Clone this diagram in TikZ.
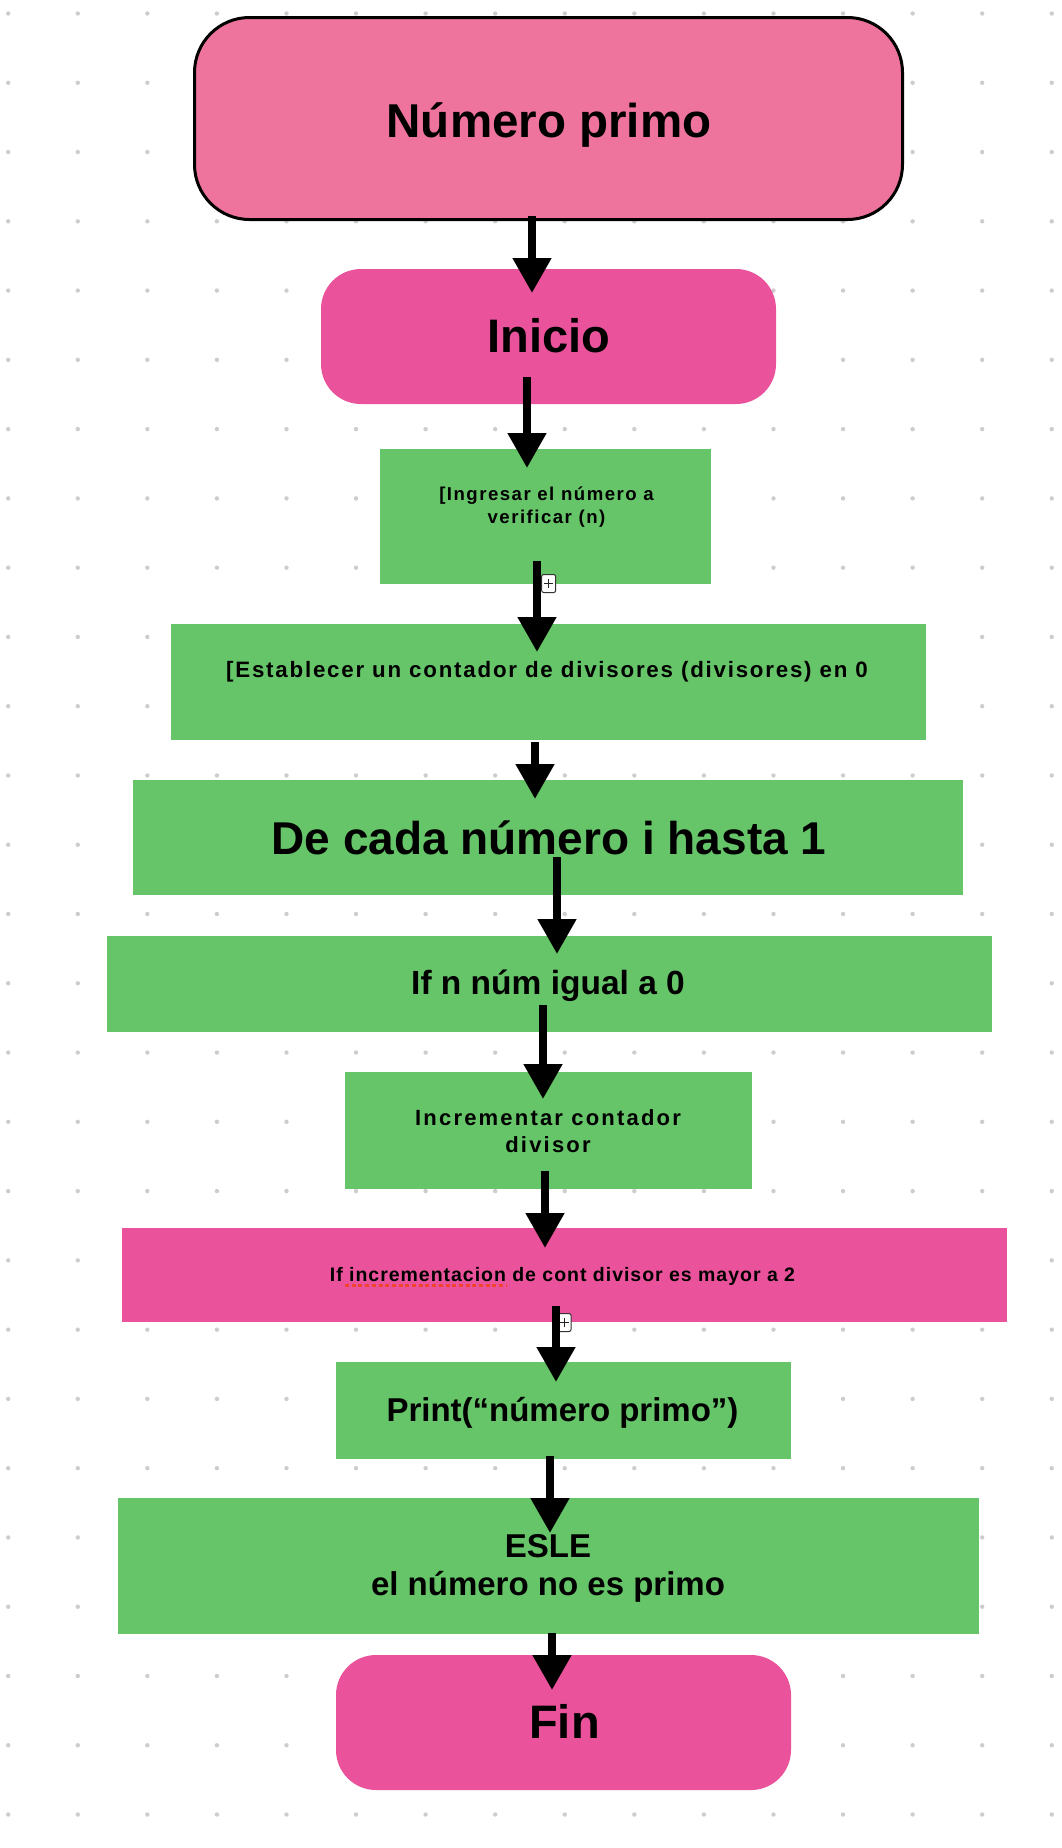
\documentclass[tikz,border=0pt]{standalone}
\usepackage{fontspec}
\setmainfont{Liberation Sans}
\newfontfamily\trkA[LetterSpace=8]{Liberation Sans}
\newfontfamily\trkB[LetterSpace=10]{Liberation Sans}
\newfontfamily\trkC[LetterSpace=5]{Liberation Sans}
\usetikzlibrary{arrows.meta}
\definecolor{pinkA}{RGB}{238,116,158}
\definecolor{pinkB}{RGB}{234,83,155}
\definecolor{greenA}{RGB}{102,197,104}
\definecolor{dotc}{RGB}{205,205,205}
\definecolor{squig}{RGB}{240,68,46}
\begin{document}
\begin{tikzpicture}[x=1pt,y=-1pt,
  shapebox/.style={inner sep=0pt, outer sep=0pt},
  greenbox/.style={shapebox, fill=greenA},
  pinkbox/.style={shapebox, fill=pinkB},
  txt/.style={inner sep=0pt, outer sep=0pt, anchor=base, text=black},
  arr/.style={line width=8pt, -{Triangle[length=35pt,width=37pt]}},
  plusbox/.style={draw=black!80, fill=white, line width=1pt, rounded corners=2pt,
    minimum width=14pt, minimum height=18pt, inner sep=0pt,
    path picture={\draw[black!85, line width=1pt]
      ([xshift=-4.5pt]path picture bounding box.center) -- ([xshift=4.5pt]path picture bounding box.center)
      ([yshift=-4.5pt]path picture bounding box.center) -- ([yshift=4.5pt]path picture bounding box.center);}}]
\useasboundingbox (0,0) rectangle (1062,1848);
\fill[white] (0,0) rectangle (1062,1848);
% dot grid
\foreach \i in {0,...,15}{\foreach \j in {0,...,26}{
  \fill[dotc] (8.2+\i*69.57, 13.5+\j*69.27) circle[radius=2.2pt];}}
% boxes
\node[shapebox, draw=black, line width=3pt, fill=pinkA, rounded corners=55pt,
  minimum width=708pt, minimum height=202pt] (top) at (548.5,118.5) {};
\node[pinkbox, rounded corners=40pt, minimum width=455pt, minimum height=135pt] (inicio) at (548.5,336.5) {};
\node[greenbox, minimum width=331pt, minimum height=135pt] (ingresar) at (545.5,516.5) {};
\node[greenbox, minimum width=755pt, minimum height=116pt] (establecer) at (548.5,682) {};
\node[greenbox, minimum width=830pt, minimum height=115pt] (decada) at (548,837.5) {};
\node[greenbox, minimum width=885pt, minimum height=96pt] (ifn) at (549.5,984) {};
\node[greenbox, minimum width=407pt, minimum height=117pt] (incr) at (548.5,1130.5) {};
\node[pinkbox, minimum width=885pt, minimum height=94pt] (ifpink) at (564.5,1275) {};
\node[greenbox, minimum width=455pt, minimum height=97pt] (print) at (563.5,1410.5) {};
\node[greenbox, minimum width=861pt, minimum height=136pt] (esle) at (548.5,1566) {};
\node[pinkbox, rounded corners=40pt, minimum width=455pt, minimum height=135pt] (fin) at (563.5,1722.5) {};
% texts (multi-line nodes: base = baseline of last line)
\node[txt, font=\bfseries\fontsize{47.5}{57}\selectfont] (ttop) at (549,137) {Número primo};
\node[txt, font=\bfseries\fontsize{47}{56}\selectfont] (tinicio) at (549,352) {Inicio};
\node[txt, align=center, font=\trkA\bfseries\fontsize{18.6}{23}\selectfont] (tingresar) at (546.5,523) {[Ingresar el número a\\verificar (n)};
\node[txt, font=\trkA\bfseries\fontsize{22.3}{27}\selectfont] (testablecer) at (547,677) {[Establecer un contador de divisores (divisores) en 0};
\node[txt, font=\bfseries\fontsize{46}{55}\selectfont] (tdecada) at (549,854) {De cada número i hasta 1};
\node[txt, font=\bfseries\fontsize{33.5}{40}\selectfont] (tifn) at (548,994) {If n núm igual a 0};
\node[txt, align=center, font=\trkB\bfseries\fontsize{22}{27}\selectfont] (tincr) at (548,1152) {Incrementar contador\\divisor};
\node[txt, font=\trkC\bfseries\fontsize{19.5}{24}\selectfont] (tifpink) at (562.5,1281) {If incrementacion de cont divisor es mayor a 2};
\node[txt, font=\bfseries\fontsize{33}{40}\selectfont] (tprint) at (562.5,1421) {Print(“número primo”)};
\node[txt, align=center, font=\bfseries\fontsize{33}{38}\selectfont] (tesle) at (548,1595) {ESLE\\el número no es primo};
\node[txt, font=\bfseries\fontsize{47}{56}\selectfont] (tfin) at (564.5,1738) {Fin};
% spell-check underline
\coordinate (sqa) at (345,1285.5);
\coordinate (sqb) at (507,1285.5);
\draw[squig, line width=3pt, dash pattern=on 4pt off 2.7pt] (sqa) -- (sqb);
% plus icons
\node[plusbox] (plusA) at (548.7,583.5) {};
\node[plusbox] (plusB) at (564,1322.5) {};
% arrows
\draw[arr] ([xshift=-16.5pt,yshift=3.5pt]top.south) -- ([xshift=-16.5pt,yshift=-24pt]inicio.north);
\draw[arr] ([xshift=-21.5pt,yshift=27pt]inicio.south) -- ([xshift=-18.5pt,yshift=-19pt]ingresar.north);
\draw[arr] ([xshift=-8.5pt,yshift=23pt]ingresar.south) -- ([xshift=-11.5pt,yshift=-28pt]establecer.north);
\draw[arr] ([xshift=-13.5pt,yshift=-2pt]establecer.south) -- ([xshift=-13pt,yshift=-19pt]decada.north);
\draw[arr] ([xshift=9pt,yshift=38pt]decada.south) -- ([xshift=7.5pt,yshift=-18pt]ifn.north);
\draw[arr] ([xshift=-6.5pt,yshift=27pt]ifn.south) -- ([xshift=-5.5pt,yshift=-27pt]incr.north);
\draw[arr] ([xshift=-3.5pt,yshift=18pt]incr.south) -- ([xshift=-19.5pt,yshift=-20pt]ifpink.north);
\draw[arr] ([xshift=-8.5pt,yshift=16pt]ifpink.south) -- ([xshift=-7.5pt,yshift=-20pt]print.north);
\draw[arr] ([xshift=-13.5pt,yshift=3pt]print.south) -- ([xshift=1.5pt,yshift=-35pt]esle.north);
\draw[arr] ([xshift=3.5pt,yshift=1pt]esle.south) -- ([xshift=-11.5pt,yshift=-35pt]fin.north);
\end{tikzpicture}
\end{document}
